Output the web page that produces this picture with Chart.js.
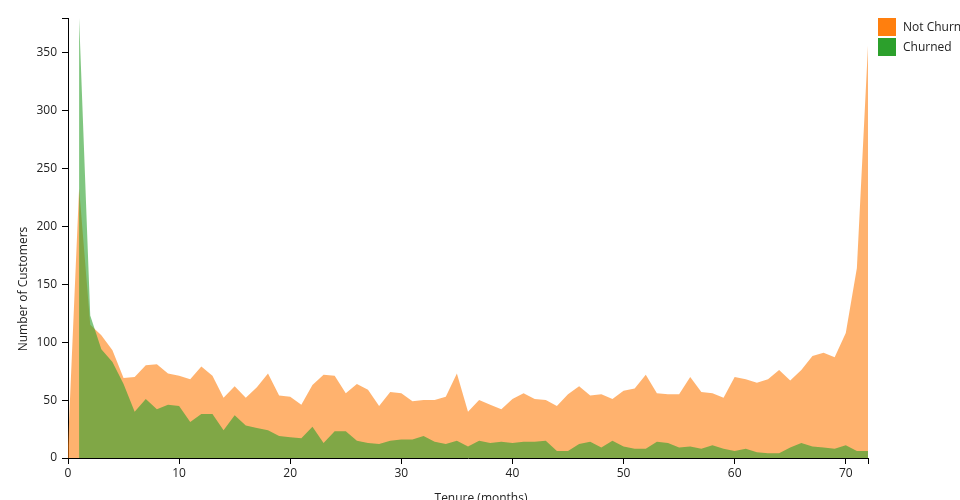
<!DOCTYPE html>
<html>
<head>
<meta charset="utf-8">
<script src="https://cdn.jsdelivr.net/npm/chart.js@4/dist/chart.umd.min.js"></script>
<style>
  html, body { margin: 0; padding: 0; background: #fff; }
  #chart { display: block; }
</style>
</head>
<body>
<canvas id="chart" width="960" height="500"></canvas>
<script>
// tenure in months (x categories)
const tenure = [0,1,2,3,4,5,6,7,8,9,10,11,12,13,14,15,16,17,18,19,20,21,22,23,24,25,26,27,28,29,30,31,32,33,34,35,36,37,38,39,40,41,42,43,44,45,46,47,48,49,50,51,52,53,54,55,56,57,58,59,60,61,62,63,64,65,66,67,68,69,70,71,72];
const notChurn = [11,233,115,106,93,69,70,80,81,73,71,68,79,71,52,62,52,61,73,54,53,46,63,72,71,56,64,59,45,57,56,49,50,50,53,73,40,50,46,42,51,56,51,50,45,55,62,54,55,51,58,60,72,56,55,55,70,57,56,52,70,68,65,68,76,67,76,88,91,87,108,164,356];
// nobody churned at tenure 0, so that month has no value
const churned = [null,380,123,94,83,64,40,51,42,46,45,31,38,38,24,37,28,26,24,19,18,17,27,13,23,23,15,13,12,15,16,16,19,14,12,15,10,15,13,14,13,14,14,15,6,6,12,14,9,15,10,8,8,14,13,9,10,8,11,8,6,8,5,4,4,9,13,10,9,8,11,6,6];
const seriesNames = ['Not Churn', 'Churned'];
const yTicks = [0,50,100,150,200,250,300,350];
const xTicks = [0,10,20,30,40,50,60,70];

const FONT = "'Open Sans', sans-serif";

function points(ys) {
  const out = [];
  tenure.forEach((t, i) => { if (ys[i] !== null) out.push({x: t, y: ys[i]}); });
  return out;
}

// legend + axis titles drawn by hand so they sit where the reference has them
const extras = {
  id: 'extras',
  afterDraw(chart) {
    const ctx = chart.ctx;
    ctx.save();
    ctx.font = '12px ' + FONT;
    ctx.fillStyle = '#222';
    ctx.textBaseline = 'middle';
    chart.data.datasets.forEach((ds, i) => {
      const y = 18 + i * 20;
      ctx.fillStyle = ds.legendColor;
      ctx.fillRect(878, y, 18, 18);
      ctx.fillStyle = '#222';
      ctx.textAlign = 'left';
      ctx.fillText(ds.label, 903, y + 10);
    });
    ctx.textAlign = 'center';
    ctx.fillText('Tenure (months)', 481, 499);
    ctx.translate(24, 289);
    ctx.rotate(-Math.PI / 2);
    ctx.fillText('Number of Customers', 0, 0);
    ctx.restore();
  }
};

new Chart(document.getElementById('chart'), {
  type: 'line',
  data: {
    datasets: [
      {
        label: seriesNames[0],
        data: points(notChurn),
        backgroundColor: 'rgba(255,127,14,0.6)',
        legendColor: '#ff7f0e',
        borderColor: 'rgba(0,0,0,0)',
        borderWidth: 0,
        pointRadius: 0,
        fill: 'origin',
        tension: 0,
        order: 1
      },
      {
        label: seriesNames[1],
        data: points(churned),
        backgroundColor: 'rgba(44,160,44,0.6)',
        legendColor: '#2ca02c',
        borderColor: 'rgba(0,0,0,0)',
        borderWidth: 0,
        pointRadius: 0,
        fill: 'origin',
        tension: 0,
        order: 0
      }
    ]
  },
  options: {
    responsive: false,
    animation: false,
    layout: { padding: { left: 0, top: 18, right: 92, bottom: 0 } },
    plugins: { legend: { display: false }, tooltip: { enabled: false } },
    scales: {
      x: {
        type: 'linear',
        min: 0,
        max: 72,
        afterFit(s) { s.height = 42; },
        afterBuildTicks(s) { s.ticks = xTicks.concat([72]).map(v => ({value: v})); },
        grid: { drawOnChartArea: false, drawTicks: true, tickLength: 6, color: '#000' },
        border: { display: true, color: '#000', width: 1 },
        ticks: {
          autoSkip: false,
          maxRotation: 0,
          padding: 2,
          color: '#222',
          font: { family: FONT, size: 12 },
          callback: v => xTicks.includes(v) ? String(v) : ''
        }
      },
      y: {
        min: 0,
        max: 380,
        afterFit(s) { s.width = 68; },
        afterBuildTicks(s) { s.ticks = yTicks.concat([380]).map(v => ({value: v})); },
        grid: { drawOnChartArea: false, drawTicks: true, tickLength: 6, color: '#000' },
        border: { display: true, color: '#000', width: 1 },
        ticks: {
          autoSkip: false,
          padding: 5,
          color: '#222',
          font: { family: FONT, size: 12 },
          callback: v => yTicks.includes(v) ? String(v) : ''
        }
      }
    }
  },
  plugins: [extras]
});
</script>
</body>
</html>
